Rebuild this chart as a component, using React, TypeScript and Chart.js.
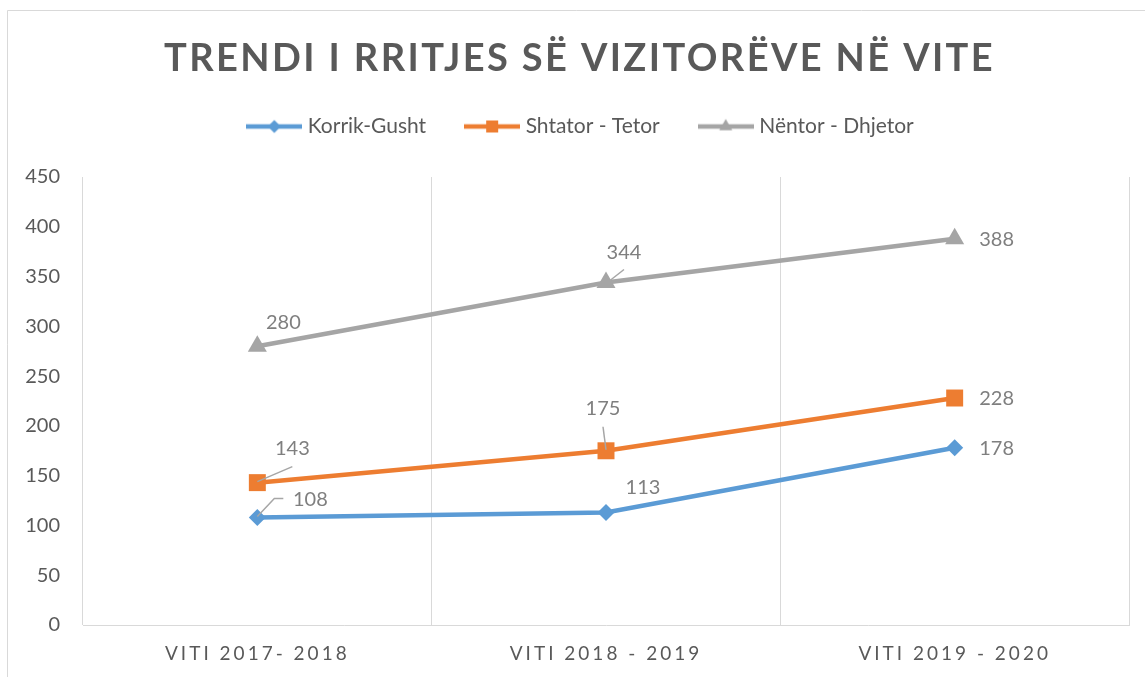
import React, { useEffect, useRef } from "react";
import { Chart, registerables } from "chart.js";

Chart.register(...registerables);

const titleText = "TRENDI I RRITJES SË VIZITORËVE NË VITE";
const categories = ["VITI 2017- 2018", "VITI 2018 - 2019", "VITI 2019 - 2020"];
const seriesNames = ["Korrik-Gusht", "Shtator - Tetor", "Nëntor - Dhjetor"];
const korrikGusht = [108, 113, 178];
const shtatorTetor = [143, 175, 228];
const nentorDhjetor = [280, 344, 388];
const yMin = 0;
const yMax = 450;
const yStep = 50;

// styling (not data)
const colors = ["#5B9BD5", "#ED7D31", "#A5A5A5"];
const markerStyles = ["rectRot", "rect", "triangle"];
const markerRadius = [8.5, 12, 11];
const legendMarkerRadius = [6.5, 8.5, 7.5];
const TEXT = "#595959";
const LABEL = "#7F7F7F";
const GRID = "#D9D9D9";
const FONT = "Lato, 'Open Sans', sans-serif";

// data label placement: [dx, dy] relative to the point, and optional leader polyline
const labelOffsets = [
  [[53, -18], [37, -25], [42, 1]],
  [[35, -34], [-3, -42], [42, 1]],
  [[26, -24], [18, -30], [42, 1]],
];
const leaders: (number[][] | null)[][] = [
  [[[0, -1], [17, -19], [26, -19]], null, null],
  [[[0, -1], [35, -16]], [[0, -1], [-3, -24]], null],
  [null, [[4, -2], [18, -13]], null],
];

function makeIcon(color: string, style: string, r: number): HTMLCanvasElement {
  const c = document.createElement("canvas");
  c.width = 56;
  c.height = 24;
  const ctx = c.getContext("2d")!;
  const cx = 28;
  const cy = 12;
  ctx.strokeStyle = color;
  ctx.lineWidth = 4.5;
  ctx.beginPath();
  ctx.moveTo(0, cy);
  ctx.lineTo(56, cy);
  ctx.stroke();
  ctx.fillStyle = color;
  ctx.beginPath();
  if (style === "rectRot") {
    ctx.moveTo(cx, cy - r);
    ctx.lineTo(cx + r, cy);
    ctx.lineTo(cx, cy + r);
    ctx.lineTo(cx - r, cy);
  } else if (style === "rect") {
    const s = r * Math.SQRT1_2;
    ctx.rect(cx - s, cy - s, 2 * s, 2 * s);
  } else {
    ctx.moveTo(cx, cy - r);
    ctx.lineTo(cx + 0.866 * r, cy + 0.5 * r);
    ctx.lineTo(cx - 0.866 * r, cy + 0.5 * r);
  }
  ctx.closePath();
  ctx.fill();
  return c;
}

function wrapDraw(chart: any, obj: any, method: string, spacing: string, dx: number) {
  if (!obj) return;
  const orig = obj[method].bind(obj);
  obj[method] = function (...args: any[]) {
    const c = chart.ctx;
    c.save();
    (c as any).letterSpacing = spacing;
    c.translate(dx, 0);
    orig(...args);
    c.restore();
  };
}

const frameAndLabels = {
  id: "frameAndLabels",
  beforeDraw(chart: any) {
    const ctx = chart.ctx;
    ctx.save();
    ctx.fillStyle = "#FFFFFF";
    ctx.fillRect(0, 0, chart.width, chart.height);
    ctx.strokeStyle = GRID;
    ctx.lineWidth = 1;
    ctx.beginPath();
    ctx.moveTo(7.5, chart.height + 5);
    ctx.lineTo(7.5, 10.5);
    ctx.lineTo(chart.width + 5, 10.5);
    ctx.stroke();
    ctx.restore();
    if (!chart.$spacingPatched) {
      chart.$spacingPatched = true;
      wrapDraw(chart, chart.titleBlock, "draw", "2.4px", 5);
      wrapDraw(chart, chart.legend, "draw", "0px", 8);
      wrapDraw(chart, chart.scales.x, "drawLabels", "3px", 0);
    }
  },
  afterDatasetsDraw(chart: any) {
    const ctx = chart.ctx;
    ctx.save();
    chart.data.datasets.forEach((ds: any, di: number) => {
      const meta = chart.getDatasetMeta(di);
      meta.data.forEach((pt: any, i: number) => {
        const lead = leaders[di][i];
        if (lead) {
          ctx.strokeStyle = "#A6A6A6";
          ctx.lineWidth = 1.5;
          ctx.beginPath();
          lead.forEach((p, k) => {
            if (k === 0) ctx.moveTo(pt.x + p[0], pt.y + p[1]);
            else ctx.lineTo(pt.x + p[0], pt.y + p[1]);
          });
          ctx.stroke();
        }
        const off = labelOffsets[di][i];
        ctx.fillStyle = LABEL;
        ctx.font = `20px ${FONT}`;
        ctx.textAlign = "center";
        ctx.textBaseline = "middle";
        ctx.fillText(String(ds.data[i]), pt.x + off[0], pt.y + off[1]);
      });
    });
    ctx.restore();
  },
};

export default function App() {
  const ref = useRef<HTMLCanvasElement | null>(null);
  useEffect(() => {
    if (!ref.current) return;
    const series = [korrikGusht, shtatorTetor, nentorDhjetor];
    const icons = series.map((_, i) => makeIcon(colors[i], markerStyles[i], legendMarkerRadius[i]));
    const chart = new Chart(ref.current, {
      type: "line",
      data: {
        labels: categories,
        datasets: series.map((d, i) => ({
          label: seriesNames[i],
          data: d,
          borderColor: colors[i],
          backgroundColor: colors[i],
          borderWidth: 4.5,
          pointStyle: markerStyles[i] as any,
          pointRadius: markerRadius[i],
          pointHoverRadius: markerRadius[i],
          pointBackgroundColor: colors[i],
          pointBorderColor: colors[i],
          pointBorderWidth: 0,
          tension: 0,
          clip: false as any,
        })),
      },
      options: {
        responsive: false,
        animation: false,
        events: [],
        layout: { padding: { left: 20, right: 16, top: 0, bottom: 0 } },
        plugins: {
          tooltip: { enabled: false },
          title: {
            display: true,
            text: titleText,
            color: TEXT,
            font: { family: FONT, size: 38, weight: "bold", lineHeight: 1 },
            padding: { top: 40, bottom: -5 },
          },
          subtitle: {
            display: true,
            text: "",
            weight: 500,
            font: { size: 1, lineHeight: 1 },
            padding: { top: 0, bottom: 29 },
          } as any,
          legend: {
            display: true,
            position: "top",
            labels: {
              usePointStyle: true,
              pointStyleWidth: 46,
              padding: 43,
              color: TEXT,
              font: { family: FONT, size: 21 },
              generateLabels: () =>
                seriesNames.map((n, i) => ({
                  text: n,
                  pointStyle: icons[i] as any,
                  fillStyle: colors[i],
                  strokeStyle: colors[i],
                  lineWidth: 0,
                  hidden: false,
                  datasetIndex: i,
                  fontColor: TEXT,
                })),
            },
          },
        },
        scales: {
          x: {
            offset: true,
            grid: { display: true, offset: true, color: GRID, lineWidth: 1, drawTicks: false },
            border: { display: true, color: GRID, width: 1 },
            ticks: {
              color: TEXT,
              font: { family: FONT, size: 19 },
              padding: 17,
              maxRotation: 0,
              autoSkip: false,
            },
            afterFit: (s: any) => {
              s.height = 52;
            },
          },
          y: {
            min: yMin,
            max: yMax,
            grid: { display: false, drawTicks: false },
            border: { display: false },
            ticks: {
              stepSize: yStep,
              color: TEXT,
              font: { family: FONT, size: 20 },
              padding: 23,
            },
            afterFit: (s: any) => {
              s.width = 63;
            },
          },
        },
      },
      plugins: [frameAndLabels],
    });
    return () => chart.destroy();
  }, []);
  return (
    <div style={{ position: "fixed", left: 0, top: 0, width: 1145, height: 677, background: "#fff" }}>
      <canvas ref={ref} width={1145} height={677} />
    </div>
  );
}
